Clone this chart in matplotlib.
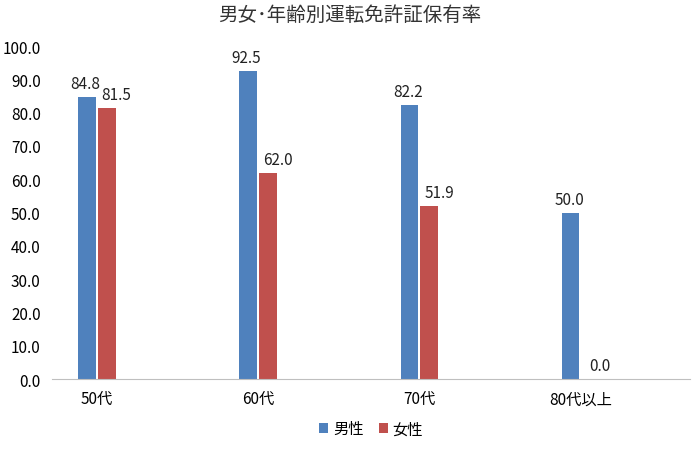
import matplotlib
matplotlib.use("Agg")
import matplotlib.pyplot as plt
import numpy as np
plt.rcParams['font.family'] = ['Noto Sans CJK JP', 'DejaVu Sans']

categories = ["50代", "60代", "70代", "80代以上"]
male = [84.8, 92.5, 82.2, 50.0]
female = [81.5, 62.0, 51.9, 0.0]
title = "男女･年齢別運転免許証保有率"

fig = plt.figure(figsize=(7, 4.52), dpi=100)
ax = fig.add_axes([0.074, 0.159, 0.912, 0.737])
x = np.arange(len(categories))
w = 0.11
c1, c2 = "#4F81BD", "#C0504D"
b1 = ax.bar(x - 0.062, male, w, color=c1, label="男性")
b2 = ax.bar(x + 0.062, female, w, color=c2, label="女性")
for bars, vals, dx in ((b1, male, -0.01), (b2, female, 0.06)):
    for b, v in zip(bars, vals):
        ax.text(b.get_x() + b.get_width() / 2 + dx, v + 1.5, f"{v:.1f}",
                ha="center", va="bottom", fontsize=11, color="#222222")
ax.set_xlim(-0.28, 3.68)
ax.set_ylim(0, 100)
ax.set_yticks(np.arange(0, 101, 10))
ax.set_yticklabels([f"{v:.1f}" for v in np.arange(0, 101, 10)], fontsize=11)
ax.set_xticks(x)
ax.set_xticklabels(categories, fontsize=11)
ax.tick_params(length=0, pad=8)
for s in ["top", "right", "left"]:
    ax.spines[s].set_visible(False)
ax.spines["bottom"].set_color("#BFBFBF")
fig.suptitle(title, fontsize=14, y=0.99, color="#333333")
fig.legend(handles=[b1, b2], loc="lower center", ncol=2, frameon=False,
           fontsize=11, bbox_to_anchor=(0.53, 0.0), handlelength=0.6,
           handleheight=0.6, columnspacing=1.0, handletextpad=0.3)
fig.savefig("out.png", dpi=100)
